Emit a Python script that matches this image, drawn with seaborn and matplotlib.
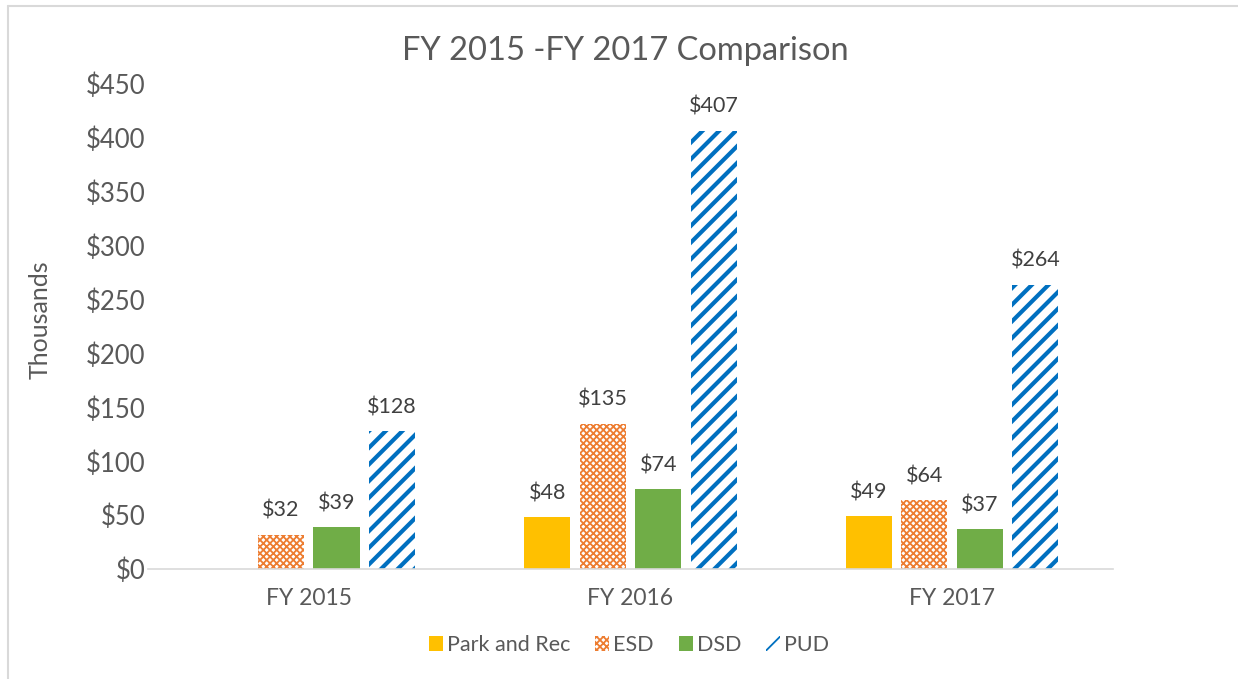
import matplotlib.pyplot as plt
import matplotlib.lines as mlines
import matplotlib.patches as mpatches
import seaborn as sns
import pandas as pd
import numpy as np

years = ["FY 2015", "FY 2016", "FY 2017"]
departments = ["Park and Rec", "ESD", "DSD", "PUD"]
park_and_rec = [np.nan, 48, 49]
esd = [32, 135, 64]
dsd = [39, 74, 37]
pud = [128, 407, 264]
yticks = [0, 50, 100, 150, 200, 250, 300, 350, 400, 450]

colors = {"Park and Rec": "#FFC000", "ESD": "#ED7D31", "DSD": "#70AD47", "PUD": "#0070C0"}
hatches = {"Park and Rec": None, "ESD": "xxxxx", "DSD": None, "PUD": "//"}
text_color = "#595959"

df = pd.DataFrame({
    "Year": years * 4,
    "Department": [d for d in departments for _ in years],
    "Value": park_and_rec + esd + dsd + pud,
})

sns.set_style("white")
plt.rcParams["font.family"] = ["Lato", "DejaVu Sans"]
plt.rcParams["hatch.linewidth"] = 1.3

fig = plt.figure(figsize=(12.38, 6.79), dpi=100)
ax = fig.add_axes([0.1195, 0.162, 0.7795, 0.714])

sns.barplot(data=df, x="Year", y="Value", hue="Department", hue_order=departments,
            palette=colors, saturation=1, width=0.69, gap=0.17, legend=False, ax=ax)

for cont, dep in zip(ax.containers, departments):
    for bar in cont:
        if hatches[dep]:
            bar.set_facecolor("white")
            bar.set_edgecolor(colors[dep])
            bar.set_hatch(hatches[dep])
            bar.set_linewidth(0)
            if dep == "PUD" and hasattr(bar, "set_hatch_linewidth"):
                bar.set_hatch_linewidth(3.0)
        else:
            bar.set_linewidth(0)
    vals = [b.get_height() for b in cont]
    labels = ["" if np.isnan(v) else f"${v:.0f}" for v in vals]
    ax.bar_label(cont, labels=labels, padding=10, fontsize=15.5, color="#404040")

ax.set_ylim(0, 450)
ax.set_xlim(-0.5, 2.5)
ax.set_yticks(yticks)
ax.set_yticklabels([f"${v}" for v in yticks])
ax.tick_params(axis="y", labelsize=18.5, colors=text_color, length=0, pad=2)
ax.tick_params(axis="x", labelsize=16.5, colors=text_color, length=0, pad=14)
ax.set_xlabel("")
ax.set_ylabel("Thousands", fontsize=18, color=text_color)
ax.yaxis.set_label_coords(-0.0995, 0.515)
for side in ["top", "right", "left"]:
    ax.spines[side].set_visible(False)
ax.spines["bottom"].set_color("#D9D9D9")
ax.spines["bottom"].set_linewidth(1.2)

fig.text(0.505, 0.925, "FY 2015 -FY 2017 Comparison", ha="center", va="center",
         fontsize=23.5, color=text_color)

handles = []
for dep in departments:
    if hatches[dep]:
        h = mpatches.Patch(facecolor="white", edgecolor=colors[dep], hatch=hatches[dep], linewidth=0)
    else:
        h = mpatches.Patch(facecolor=colors[dep], linewidth=0)
    handles.append(h)
fig.legend(handles, departments, loc="center", bbox_to_anchor=(0.508, 0.05), ncol=4,
           frameon=False, fontsize=15.5, labelcolor=text_color, handlelength=0.65,
           handleheight=0.65, handletextpad=0.2, columnspacing=1.15)

# chart area border (top and left visible)
fig.add_artist(mlines.Line2D([8 / 1238, 1], [1 - 6 / 679, 1 - 6 / 679], color="#D9D9D9",
                             linewidth=1.5, transform=fig.transFigure))
fig.add_artist(mlines.Line2D([8 / 1238, 8 / 1238], [0, 1 - 6 / 679], color="#D9D9D9",
                             linewidth=1.5, transform=fig.transFigure))

fig.savefig("out.png", dpi=100)
